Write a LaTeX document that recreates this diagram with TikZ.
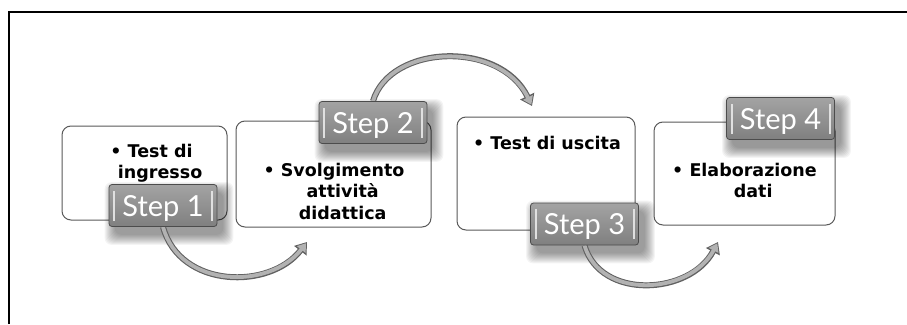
\documentclass[tikz,border=0pt]{standalone}
\usepackage{fontspec}
\setmainfont{DejaVu Sans}
\newfontfamily\stepfont{Lato}
\usetikzlibrary{arrows.meta,backgrounds}

% soft shadow under a step tab, just stacked see-through boxes
\newcommand{\tabshadow}[1]{%
    \foreach \k in {0,...,10} {
        \fill [black, opacity=0.045, rounded corners=7pt]
            ([xshift={6pt-\k*1pt}, yshift={-8pt-\k*1pt}]#1.south west) rectangle
            ([xshift={6pt+\k*1pt}, yshift={-8pt+\k*1pt}]#1.north east);
    }%
}

\begin{document}
\begin{tikzpicture}[
            x=1pt, y=-1pt,
            box/.style={draw=black!65, line width=1pt, rounded corners=9pt, fill=white, inner sep=0pt},
            steptab/.style={draw=black!70, line width=0.8pt, rounded corners=3pt,
                top color=black!36, bottom color=black!50, text=white,
                minimum width=108pt, minimum height=42pt, inner sep=0pt,
                text height=24pt, text depth=3pt,
                font=\stepfont\fontsize{29}{32}\selectfont,
                path picture={
                    \draw [black!12, line width=2pt]
                        ([xshift=5pt, yshift=6pt]path picture bounding box.south west) --
                        ([xshift=5pt, yshift=-6pt]path picture bounding box.north west)
                        ([xshift=-5pt, yshift=6pt]path picture bounding box.south east) --
                        ([xshift=-5pt, yshift=-6pt]path picture bounding box.north east);
                }},
            item/.style={anchor=north, align=center, inner sep=0pt,
                font=\bfseries\fontsize{17.5}{21.5}\selectfont},
            flowout/.style={line width=6pt, draw=black!62, -{Triangle[length=11pt,width=15pt]}},
            flowin/.style={line width=3.8pt, draw=black!30, shorten >=1.5pt, -{Triangle[length=8pt,width=10.5pt]}},
        ]
        \useasboundingbox (0,0) rectangle (907,324);
        \draw [line width=1.6pt] (9,324) -- (9,12) -- (907,12);

        % step tabs on top of everything
        \node [steptab] (t1) at (163,205.5) {Step 1};
        \node [steptab] (t2) at (373,122.5) {Step 2};
        \node [steptab] (t3) at (584.5,224) {Step 3};
        \node [steptab] (t4) at (780.5,118.5) {Step 4};

        \node [item] (i1) at (151.5,144) {\textbullet\ Test di\\\hphantom{\textbullet\ }ingresso};
        \node [item] (i2) at (334,163) {\textbullet\ Svolgimento\\\hphantom{\textbullet\ }attività\\\hphantom{\textbullet\ }didattica};
        \node [item] (i3) at (547,136) {\textbullet\ Test di uscita};
        \node [item] (i4) at (744.5,163) {\textbullet\ Elaborazione\\\hphantom{\textbullet\ }dati};

        \begin{scope}[on background layer]
            \node [box, minimum width=165pt, minimum height=94pt] (b1) at (144.5,173) {};
            \node [box, minimum width=195pt, minimum height=106pt] (b2) at (333.5,174) {};
            \node [box, minimum width=178pt, minimum height=113pt] (b3) at (546,173.5) {};
            \node [box, minimum width=181pt, minimum height=103pt] (b4) at (744.5,173.5) {};

            \tabshadow{t1}
            \tabshadow{t2}
            \tabshadow{t3}
            \tabshadow{t4}

            \coordinate (e1) at (307,242);
            \coordinate (e2) at (532,106);
            \coordinate (e3) at (718,242);
            \foreach \layer in {flowout,flowin} {
                \draw [\layer] (t1.south) .. controls +(17,62) and +(-37,48) .. (e1);
                \draw [\layer] (t2.north) .. controls +(17,-57) and +(-32,-66) .. (e2);
                \draw [\layer] (t3.south) .. controls +(16,55) and +(-28,53) .. (e3);
            }
        \end{scope}
\end{tikzpicture}
\end{document}
